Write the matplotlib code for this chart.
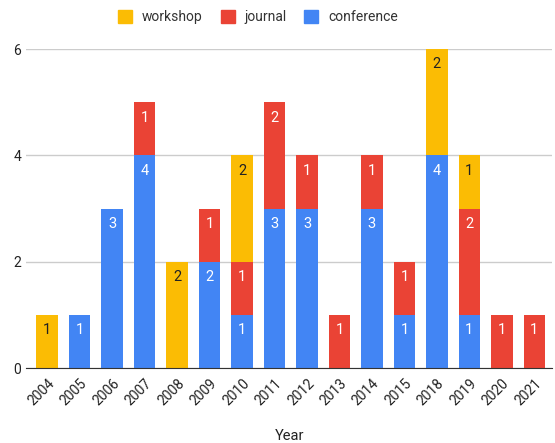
import matplotlib
matplotlib.use("Agg")
import matplotlib.pyplot as plt
import numpy as np
from matplotlib.patches import Patch

plt.rcParams['font.family'] = ['Roboto', 'DejaVu Sans']

# data
years = ['2004', '2005', '2006', '2007', '2008', '2009', '2010', '2011',
         '2012', '2013', '2014', '2015', '2018', '2019', '2020', '2021']
conference = [0, 1, 3, 4, 0, 2, 1, 3, 3, 0, 3, 1, 4, 1, 0, 0]
journal = [0, 0, 0, 1, 0, 1, 1, 2, 1, 1, 1, 1, 0, 2, 1, 1]
workshop = [1, 0, 0, 0, 2, 0, 2, 0, 0, 0, 0, 0, 2, 1, 0, 0]

blue = '#4285F4'
red = '#EA4335'
yellow = '#FBBC04'

fig = plt.figure(figsize=(5.55, 4.43), dpi=100)
ax = fig.add_axes([0.047, 0.169, 0.948, 0.72])

x = np.arange(len(years))
w = 0.66
bottom = np.zeros(len(years))
for vals, col, txtcol in [(conference, blue, 'white'),
                          (journal, red, 'white'),
                          (workshop, yellow, '#222222')]:
    vals = np.array(vals)
    ax.bar(x, vals, w, bottom=bottom, color=col, zorder=3)
    # value labels sit just under the top of each segment
    for xi, v, b in zip(x, vals, bottom):
        if v > 0:
            ax.annotate(str(v), (xi, b + v), xytext=(0, -11),
                        textcoords='offset points', ha='center', va='center',
                        color=txtcol, fontsize=10.5, zorder=4)
    bottom = bottom + vals

ax.set_xlim(-0.65, len(years) - 0.45)
ax.set_ylim(0, 6)
ax.set_yticks([0, 2, 4, 6])
ax.grid(axis='y', color='#cccccc', linewidth=1, zorder=0)
ax.set_xticks(x)
ax.set_xticklabels(years, rotation=45, ha='right', rotation_mode='anchor',
                   fontsize=10, color='#222222')
ax.tick_params(axis='both', length=0, labelsize=10, labelcolor='#222222')
ax.tick_params(axis='x', pad=6)
for s in ['top', 'right', 'left']:
    ax.spines[s].set_visible(False)
ax.spines['bottom'].set_color('#333333')
ax.spines['bottom'].set_zorder(5)
ax.set_xlabel('Year', fontsize=10.5, color='#222222', labelpad=15)

handles = [Patch(color=yellow, label='workshop'),
           Patch(color=red, label='journal'),
           Patch(color=blue, label='conference')]
fig.legend(handles=handles, loc='upper center', ncol=3, frameon=False,
           bbox_to_anchor=(0.465, 1.005), fontsize=10, handlelength=1.0,
           handleheight=1.0, columnspacing=1.3, handletextpad=0.7,
           labelcolor='#333333')

fig.savefig('out.png', dpi=100)
